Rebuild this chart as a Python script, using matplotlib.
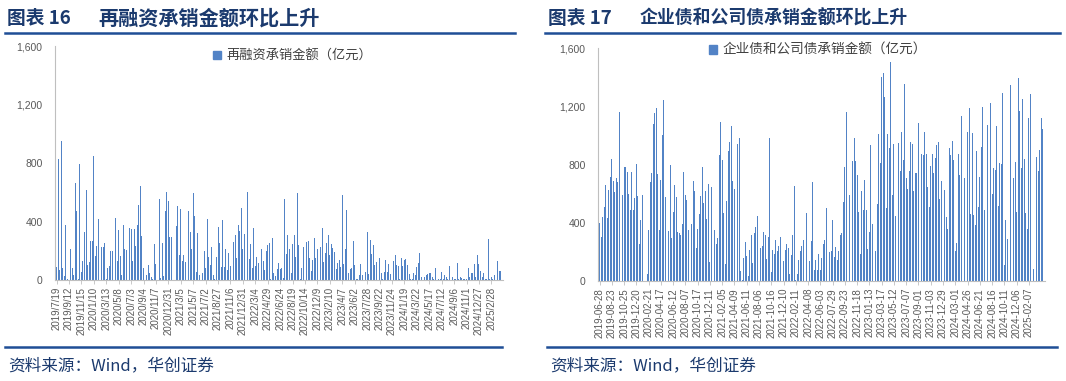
import matplotlib
matplotlib.use("Agg")
import matplotlib.pyplot as plt
from matplotlib.lines import Line2D
from matplotlib.patches import Patch
import numpy as np

plt.rcParams['font.family'] = ['Liberation Sans', 'Noto Sans CJK SC']

# 图表16 再融资承销金额（亿元），周度
refi_labels = ['2019/7/19', '2019/9/12', '2019/11/15', '2020/1/10', '2020/3/13', '2020/5/8',
               '2020/7/3', '2020/9/4', '2020/11/7', '2020/12/31', '2021/3/5', '2021/5/7',
               '2021/7/2', '2021/8/27', '2021/11/6', '2021/12/31', '2022/3/4', '2022/4/29',
               '2022/6/24', '2022/8/19', '2022/10/14', '2022/12/9', '2023/2/10', '2023/4/7',
               '2023/6/2', '2023/7/28', '2023/9/22', '2023/11/24', '2024/1/19', '2024/3/22',
               '2024/5/17', '2024/7/12', '2024/9/6', '2024/11/1', '2024/12/27', '2025/2/28']
refi_values = [90, 827, 70, 953, 80, 25, 377, 5, 60, 215, 85, 35, 660, 470, 10, 795,
               55, 130, 325, 617, 100, 120, 267, 270, 850, 165, 233, 416, 235, 225, 225, 250,
               10, 80, 95, 200, 195, 790, 425, 130, 345, 165, 35, 375, 210, 205, 200, 355,
               350, 130, 352, 230, 377, 510, 640, 300, 80, 0, 35, 100, 50, 18, 5, 245,
               110, 0, 553, 15, 255, 25, 470, 600, 540, 297, 293, 180, 0, 370, 503, 171,
               485, 128, 171, 120, 192, 470, 325, 213, 595, 435, 55, 320, 35, 183,
               45, 200, 80, 418, 155, 100, 224, 35, 5, 160, 360, 250, 90, 410, 87, 210,
               65, 183, 96, 1190, 263, 308, 150, 375, 338, 490, 213, 315, 35, 605, 146, 245,
               85, 354, 96, 160, 119, 183, 210, 133, 70, 200, 240, 256, 9, 290, 46, 27,
               73, 119, 73, 80, 12, 553, 178, 306, 210, 46, 247, 308, 160, 595, 240, 10,
               85, 224, 160, 258, 270, 148, 64, 137, 290, 148, 213, 365, 228, 354, 121, 187,
               251, 308, 171, 247, 217, 190, 73, 119, 137, 87, 583, 110, 210, 480, 50, 73,
               80, 267,
               103, 5, 8, 37, 110, 34, 210, 57, 331, 41, 275, 176, 240, 103, 126, 121,
               149, 50, 8, 57, 137, 57, 110, 41, 41, 130, 171, 100, 96, 5, 149, 96,
               137, 142, 100, 41, 5, 5, 46, 34, 91, 119, 183, 18, 62, 18, 34, 39,
               46, 46, 18, 5, 80, 18, 9, 5, 57, 5, 32, 18, 5, 98, 5, 23,
               5, 5, 114, 5, 18, 14, 5, 5, 5, 80, 23, 46, 46, 110, 23, 171,
               110, 62, 23, 46, 5, 5, 281, 9, 18, 5, 34, 75, 130, 62, 62]

# 图表17 企业债和公司债承销金额（亿元），周度
bond_labels = ['2019-06-28', '2019-08-23', '2019-10-25', '2019-12-20', '2020-02-21', '2020-04-17',
               '2020-06-12', '2020-08-07', '2020-10-17', '2020-12-11', '2021-02-05', '2021-04-09',
               '2021-06-11', '2021-08-06', '2021-10-16', '2021-12-10', '2022-02-11', '2022-04-08',
               '2022-06-03', '2022-07-29', '2022-09-23', '2022-11-18', '2023-01-13', '2023-03-17',
               '2023-05-12', '2023-07-07', '2023-09-01', '2023-11-03', '2023-12-29', '2024-03-01',
               '2024-04-26', '2024-06-21', '2024-08-16', '2024-10-11', '2024-12-06', '2025-02-07']
bond_values = [400, 303, 437, 506, 660, 435, 625, 713, 837, 690,
               614, 706, 683, 1166, 28, 589, 782, 782, 747, 602,
               492, 747, 487, 568, 805, 584, 253, 423, 595, 471,
               0, 50, 350, 683, 745, 1078, 1159, 1193, 733, 350,
               692, 1005, 1246, 575, 225, 345, 795, 299, 478, 664,
               579, 336, 333, 317, 395, 752, 591, 556, 350, 269,
               395, 687, 618, 230, 356, 464, 584, 786, 540, 620,
               425, 667, 131, 648, 561, 350, 257, 299, 867, 1097,
               832, 469, 115, 552, 897, 954, 1069, 690, 630, 745,
               943, 982, 69, 9, 161, 269, 170, 37, 212, 315,
               124, 331, 372, 446, 177, 230, 239, 338, 315, 149,
               303, 986, 60, 216, 189, 280, 207, 241, 303, 322,
               138, 212, 253, 230, 51, 177, 315, 653, 9, 46,
               143, 207, 239, 285, 216, 471, 0, 138, 274, 683,
               74, 147, 74, 189, 74, 161, 257,
               285, 503, 62, 198, 207, 418, 166, 234, 143, 207,
               320, 333, 547, 786, 1161, 0, 591, 641, 828, 982,
               828, 729, 476, 189, 618, 487, 694, 487, 223, 338,
               933, 395, 78, 207, 529, 1009, 814, 1402, 1430, 1264,
               499, 1009, 913, 1504, 591, 943, 446, 407, 952, 759,
               1028, 832, 1356, 710, 630, 756, 959, 943, 618, 740,
               740, 1090, 1184, 874, 867, 1028, 874, 648, 510, 791,
               871, 740, 844, 936, 959, 563, 690, 844, 625, 441,
               361, 917, 867, 966, 832, 205, 262, 874, 729, 1136,
               1379, 710, 469, 1028, 1189, 464, 1021, 453, 384, 894,
               510, 713, 924, 1200, 487, 549, 1074, 798, 1223, 602,
               779, 763, 1067, 515, 814, 802, 1292, 108, 423, 292,
               816, 1350, 802, 710, 818, 476, 1395, 1170, 775, 1251,
               841, 471, 361, 1120, 1287, 331, 85, 499, 851, 756,
               901, 1120, 1044]

BAR = '#5283C6'
NAVY = '#1B3A6E'
LINE = '#1F4E96'
GREY = '#595959'
CJK = ['Noto Sans CJK SC', 'DejaVu Sans']

W, H = 1066, 381
fig = plt.figure(figsize=(W / 100, H / 100), dpi=100)


def px(x, y):
    return x / W, 1 - y / H


def panel(rect, values, labels, legend_text, legend_xy, legend_size):
    ax = fig.add_axes(rect)
    x = np.arange(len(values))
    ax.bar(x, values, width=0.6, color=BAR, linewidth=0)
    ax.set_ylim(0, 1600)
    ax.set_xlim(-1, len(values) + 0.5)
    ax.set_yticks([0, 400, 800, 1200, 1600])
    ax.set_yticklabels(['0', '400', '800', '1,200', '1,600'])
    ax.set_xticks(np.arange(len(labels)) * 8)
    ax.set_xticklabels(labels, rotation=90)
    ax.tick_params(axis='y', length=0, pad=9, labelsize=7.5, labelcolor=GREY)
    ax.tick_params(axis='x', length=3, width=0.6, color='#BFBFBF', pad=2,
                   labelsize=7, labelcolor=GREY)
    for s in ['top', 'right']:
        ax.spines[s].set_visible(False)
    ax.spines['left'].set_color('#BFBFBF')
    ax.spines['bottom'].set_color('#BFBFBF')
    ax.spines['left'].set_linewidth(0.8)
    ax.spines['bottom'].set_linewidth(0.8)
    leg = ax.legend(handles=[Patch(color=BAR, label=legend_text)], loc='center left',
                    bbox_to_anchor=px(*legend_xy), bbox_transform=fig.transFigure,
                    frameon=False, borderpad=0, borderaxespad=0, handlelength=0.6,
                    handleheight=0.6, handletextpad=0.4,
                    prop={'family': CJK, 'size': legend_size})
    for t in leg.get_texts():
        t.set_color('#404040')
    return ax


ax1 = panel([55 / W, 1 - 280 / H, 448 / W, 234 / H], refi_values, refi_labels,
            '再融资承销金额（亿元）', (213, 56), 9.5)
ax2 = panel([598 / W, 1 - 281 / H, 447 / W, 232.5 / H], bond_values, bond_labels,
            '企业债和公司债承销金额（亿元）', (709, 50), 9.8)

# titles, rules and source lines
fig.text(*px(7, 18), '图表 16', family=CJK, fontsize=13.5,
         fontweight='bold', color=NAVY, va='center')
fig.text(*px(98, 18), '再融资承销金额环比上升', family=CJK, fontsize=14.5,
         fontweight='bold', color=NAVY, va='center')
fig.text(*px(548, 18), '图表 17', family=CJK, fontsize=13.5,
         fontweight='bold', color=NAVY, va='center')
fig.text(*px(640, 18), '企业债和公司债承销金额环比上升', family=CJK, fontsize=12.9,
         fontweight='bold', color=NAVY, va='center')
for x0, x1 in [(5, 515), (545, 1060)]:
    fig.add_artist(Line2D([x0 / W, x1 / W], [1 - 33 / H] * 2, color=LINE, lw=1.8))
for x0, x1 in [(5, 502), (547, 1057)]:
    fig.add_artist(Line2D([x0 / W, x1 / W], [1 - 347 / H] * 2, color=LINE, lw=1.8))
fig.text(*px(8, 366), '资料来源：Wind，华创证券', family=CJK, fontsize=12,
         style='italic', color=NAVY, va='center')
fig.text(*px(550, 366), '资料来源：Wind，华创证券', family=CJK, fontsize=12,
         style='italic', color=NAVY, va='center')

plt.savefig('out.png', dpi=100)
